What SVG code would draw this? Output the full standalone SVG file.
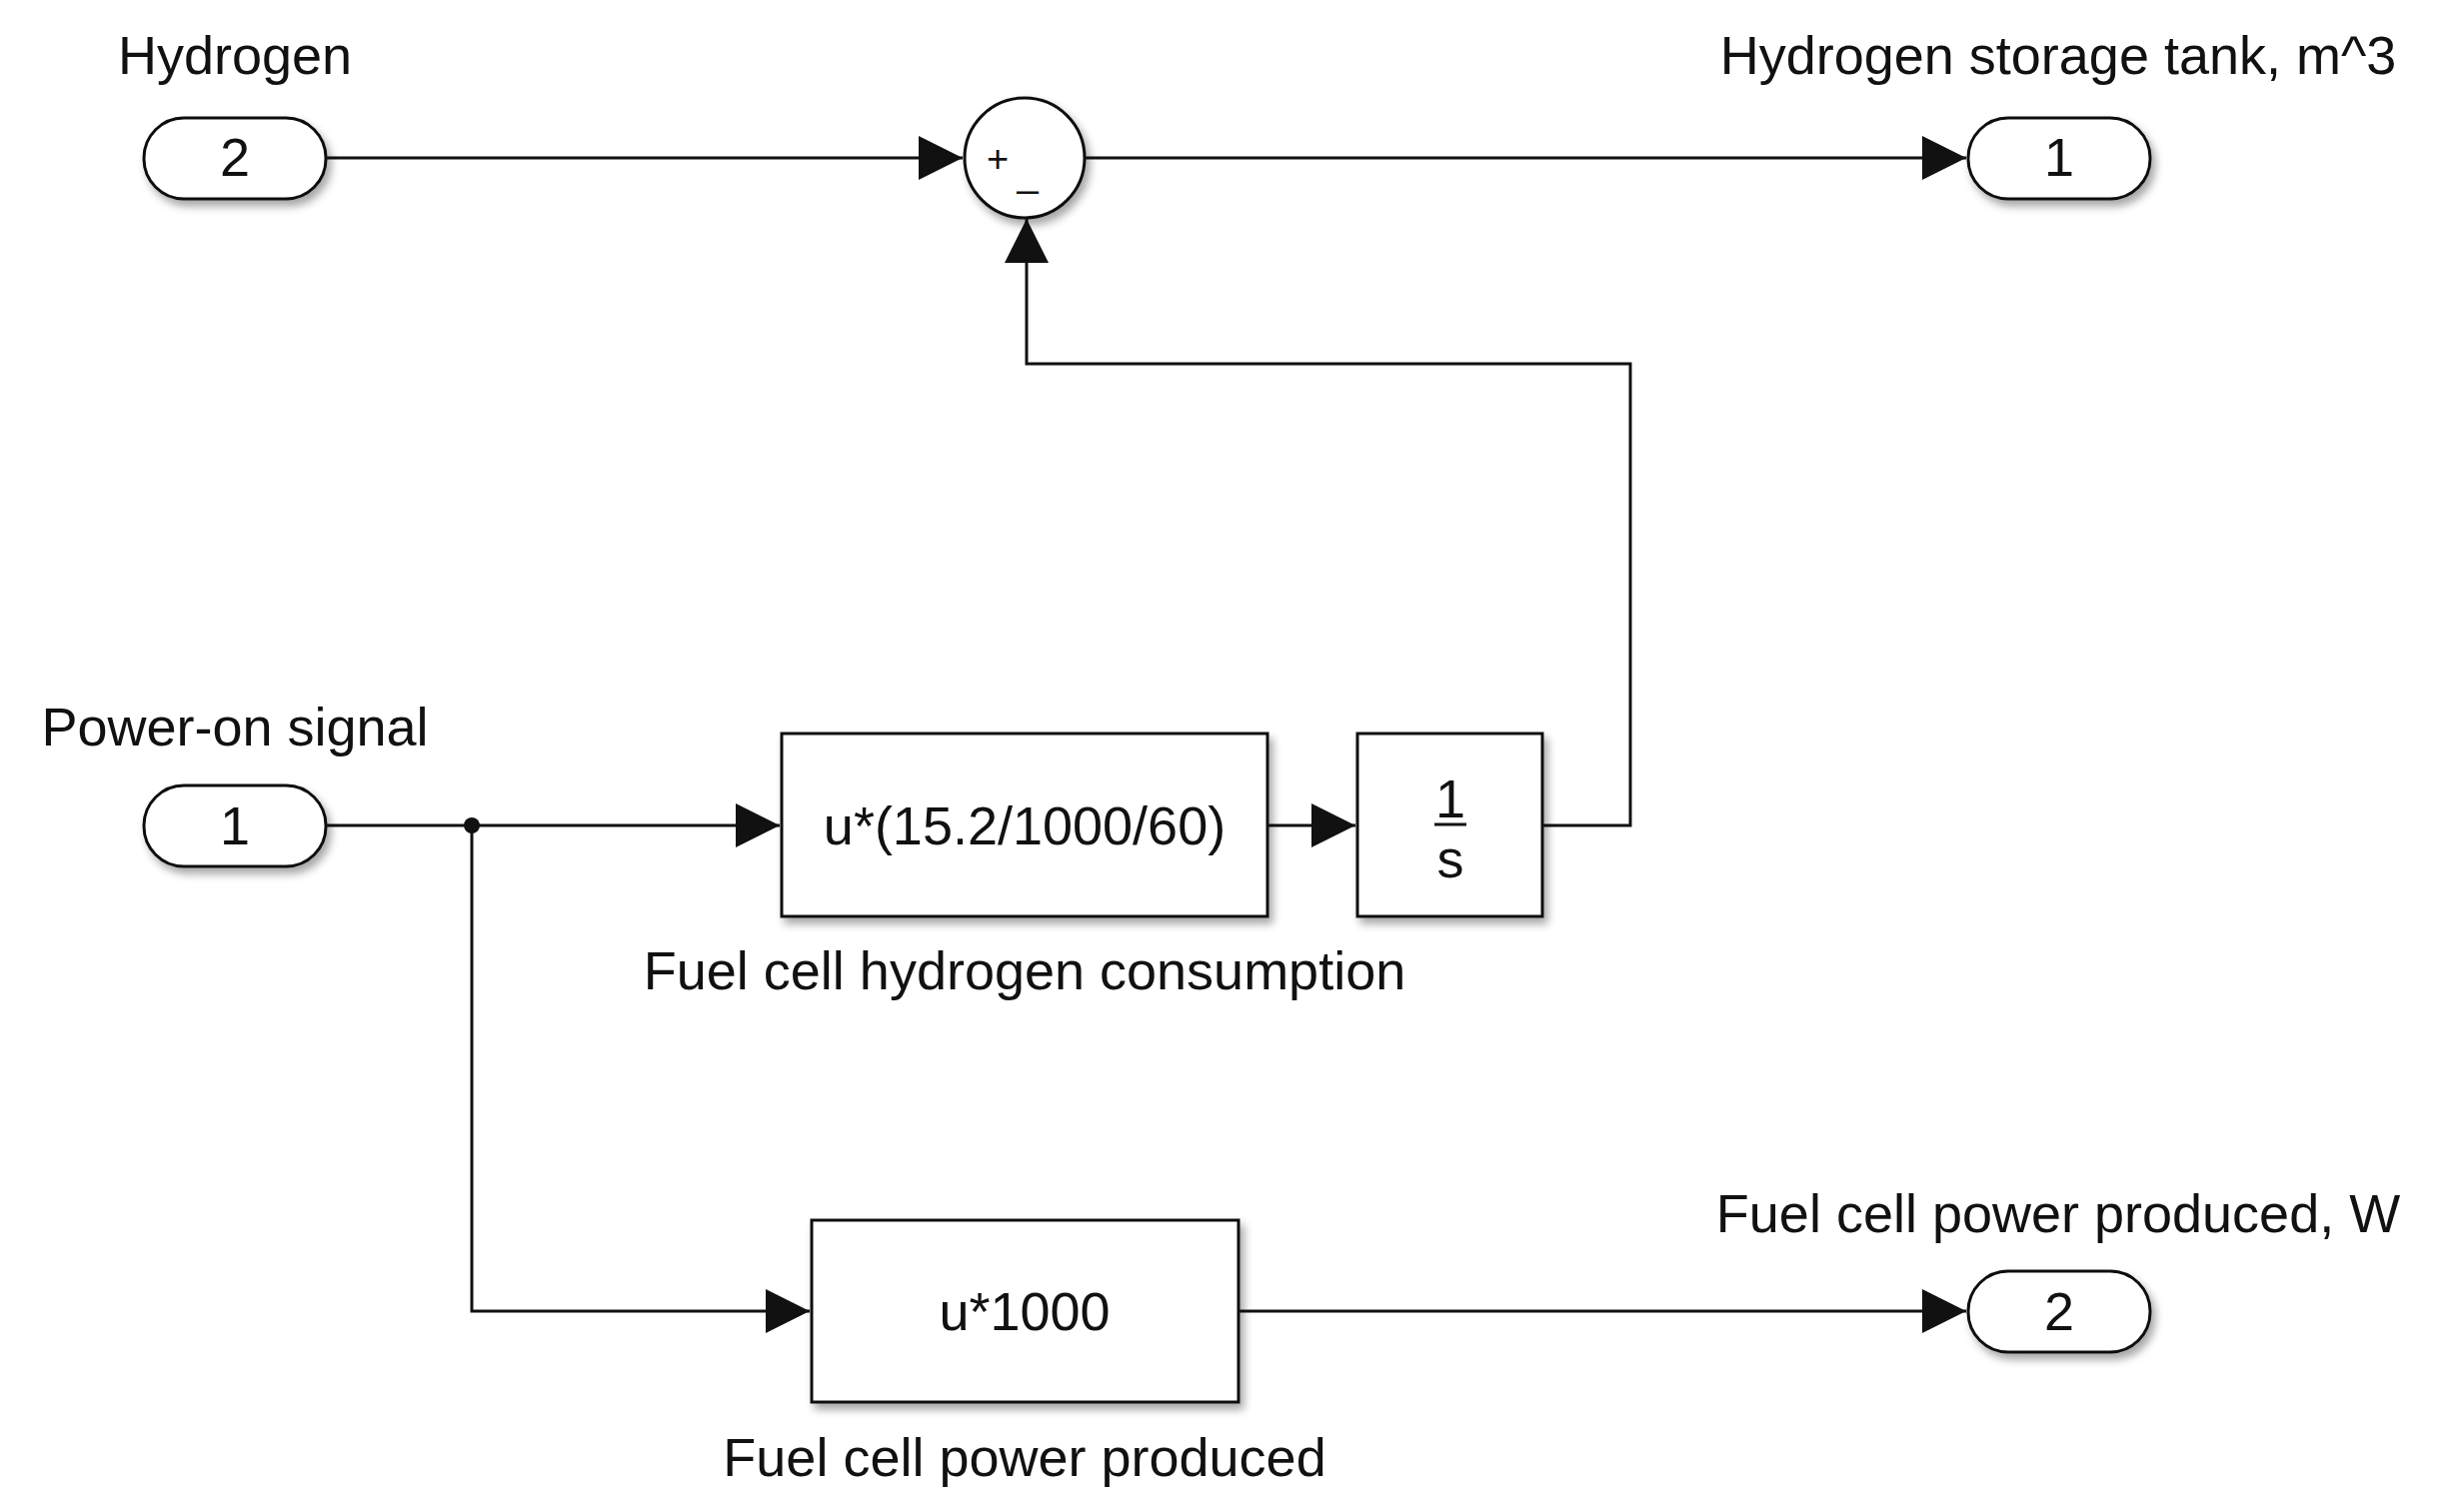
<svg xmlns="http://www.w3.org/2000/svg" width="2459" height="1513" viewBox="0 0 2459 1513">
<style>
text{font-family:"Liberation Sans",Arial,sans-serif;font-size:54px;fill:#111;text-anchor:middle}
.blk{fill:#fff;stroke:#111;stroke-width:3;filter:url(#sh)}
.ln{fill:none;stroke:#111;stroke-width:3}
</style>
<defs>
<filter id="sh" x="-20%" y="-20%" width="150%" height="150%"><feDropShadow dx="4" dy="6" stdDeviation="4" flood-color="#000" flood-opacity="0.35"/></filter>
<marker id="a" markerWidth="10" markerHeight="10" refX="10" refY="5" orient="auto" markerUnits="userSpaceOnUse" viewBox="0 0 10 10"><path d="M0,0L10,5L0,10z" fill="#111"/></marker>
<marker id="b" viewBox="0 0 10 10" refX="10" refY="5" markerWidth="46" markerHeight="44" orient="auto" markerUnits="userSpaceOnUse"><path d="M0,0L10,5L0,10z" fill="#111"/></marker>
</defs>
<g id="connectors">
<path class="ln" d="M326,158H963" marker-end="url(#b)"/>
<path class="ln" d="M1086,158H1967" marker-end="url(#b)"/>
<path class="ln" d="M1543,826H1631V364H1027V219" marker-end="url(#b)"/>
<path class="ln" d="M326,826H780" marker-end="url(#b)"/>
<path class="ln" d="M1268,826H1356" marker-end="url(#b)"/>
<path class="ln" d="M472,826V1312H810" marker-end="url(#b)"/>
<path class="ln" d="M1239,1312H1967" marker-end="url(#b)"/>
<circle cx="472" cy="826" r="8" fill="#111"/>
</g>
<g id="in2"><rect class="blk" x="144" y="118" width="182" height="81" rx="40"/><text x="235" y="176">2</text><text x="235" y="74">Hydrogen</text></g>
<g id="sum"><circle class="blk" cx="1025" cy="158" r="60"/><text x="998" y="172" style="font-size:38px">+</text><text x="1028" y="186" style="font-size:38px">_</text></g>
<g id="out1"><rect class="blk" x="1969" y="118" width="182" height="81" rx="40"/><text x="2060" y="176">1</text><text x="2059" y="74">Hydrogen storage tank, m^3</text></g>
<g id="in1"><rect class="blk" x="144" y="786" width="182" height="81" rx="40"/><text x="235" y="845">1</text><text x="235" y="746">Power-on signal</text></g>
<g id="gain1"><rect class="blk" x="782" y="734" width="486" height="183"/><text x="1025" y="845">u*(15.2/1000/60)</text><text x="1025" y="990">Fuel cell hydrogen consumption</text></g>
<g id="integ"><rect class="blk" x="1358" y="734" width="185" height="183"/><text x="1451" y="818">1</text><line x1="1435" y1="825" x2="1467" y2="825" stroke="#111" stroke-width="3"/><text x="1451" y="878">s</text></g>
<g id="gain2"><rect class="blk" x="812" y="1221" width="427" height="182"/><text x="1025" y="1331">u*1000</text><text x="1025" y="1477">Fuel cell power produced</text></g>
<g id="out2"><rect class="blk" x="1969" y="1272" width="182" height="81" rx="40"/><text x="2060" y="1331">2</text><text x="2059" y="1233">Fuel cell power produced, W</text></g>
</svg>
